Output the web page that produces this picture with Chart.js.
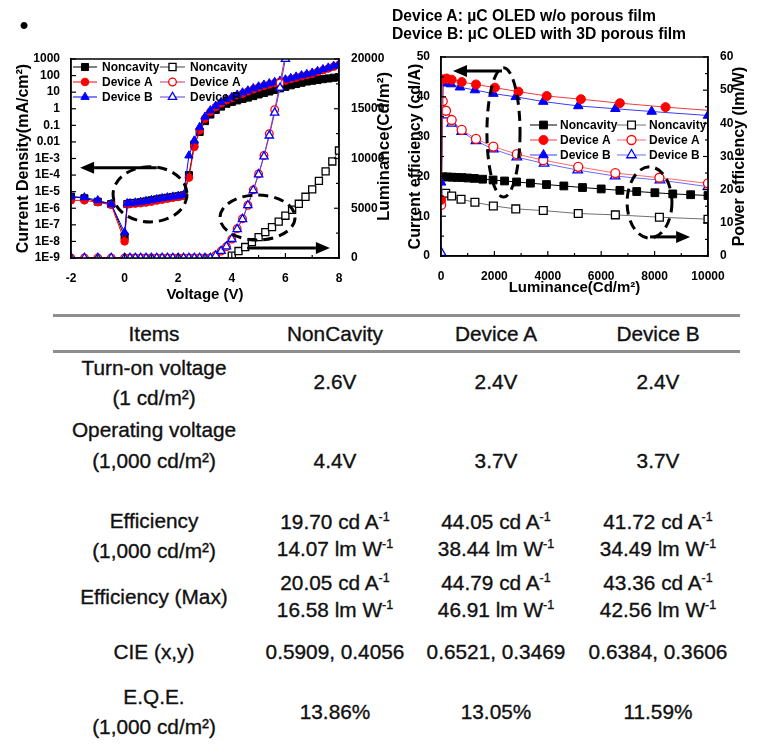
<!DOCTYPE html>
<html>
<head>
<meta charset="utf-8">
<script src="https://cdn.jsdelivr.net/npm/chart.js@4/dist/chart.umd.min.js"></script>
<style>
html,body{margin:0;padding:0;background:#fff;}
#page{position:relative;width:764px;height:756px;overflow:hidden;font-family:'Liberation Sans',Arial,sans-serif;color:#000;background:#fff;}
#page canvas{position:absolute;top:0;}
.t{position:absolute;white-space:nowrap;line-height:1;transform:translate(-50%,-50%);font-size:20.8px;color:#111;-webkit-text-stroke:0.35px #111;}
.t sup{font-size:0.6em;vertical-align:baseline;position:relative;top:-0.62em;}
.hline{position:absolute;left:53px;width:687px;height:3px;background:#8e8e8e;}
.hd{position:absolute;left:392px;font-weight:bold;font-size:15.7px;white-space:nowrap;line-height:1;transform:translateY(-50%);}
#bullet{position:absolute;left:24px;top:25px;font-size:26px;line-height:1;transform:translate(-50%,-50%);}
</style>
</head>
<body>
<div id="page">
  <canvas id="jv" width="395" height="310" style="left:0;width:395px;height:310px"></canvas>
  <canvas id="eff" width="369" height="310" style="left:395px;width:369px;height:310px"></canvas>
  <div id="bullet">•</div>
  <div class="hd" style="top:16px">Device A: µC OLED w/o porous film</div>
  <div class="hd" style="top:34px">Device B: µC OLED with 3D porous film</div>
  <div id="table"></div>
</div>
<script>
// ---------------- DATA: J-V-L chart ----------------
const voltJ = [-2,-1.5,-1,-0.5,0,0.1,0.2,0.4,0.6,0.8,1.0,1.2,1.4,1.6,1.8,2.0,2.2,2.4,2.6,2.8,3.0,3.2,3.4,3.6,3.8,4.0,4.2,4.4,4.6,4.8,5.0,5.2,5.4,5.6,5.8,6.0,6.2,6.4,6.6,6.8,7.0,7.2,7.4,7.6,7.8,8.0];
const jNoncavity = [5e-6,4e-6,2.5e-6,1.8e-6,2e-8,1.8e-6,2e-6,2.1e-6,2.3e-6,2.6e-6,3e-6,3.4e-6,3.9e-6,4.3e-6,4.8e-6,5.3e-6,6e-6,1e-4,7e-3,0.04,0.18,0.45,0.85,1.35,2.0,2.6,3.2,3.9,4.7,5.8,7.3,8.9,11,13.5,17,21,26,31,37,44,49,54,61,67,74,82];
const jDeviceA = [3e-6,3e-6,2.3e-6,1.6e-6,1e-8,1.7e-6,1.8e-6,1.9e-6,2e-6,2.2e-6,2.5e-6,2.9e-6,3.3e-6,3.8e-6,4.3e-6,4.8e-6,5.5e-6,7e-5,5e-3,0.05,0.25,0.65,1.25,2.1,3.2,4.3,6,8,11,14.5,19,24,29,35,42,50,61,75,90,108,130,165,210,265,345,440];
const jDeviceB = [5e-6,4.5e-6,3e-6,1.8e-6,3.5e-8,2e-6,2e-6,2.2e-6,2.4e-6,2.7e-6,3.1e-6,3.5e-6,4e-6,4.5e-6,5e-6,5.5e-6,6.3e-6,1.5e-3,0.012,0.08,0.33,0.8,1.5,2.5,3.8,5,7,9.5,12.5,17,22,28,34,41,49,58,70,86,103,123,148,185,240,300,385,490];
const voltLumAB = [-2,-1.5,-1,-0.5,0,0.2,0.4,0.6,0.8,1.0,1.2,1.4,1.6,1.8,2.0,2.2,2.4,2.6,2.8,3.0,3.2,3.4,3.6,3.8,4.0,4.2,4.4,4.6,4.8,5.0,5.2,5.4,5.6,5.8,6.0];
const lumDeviceA = [0,0,0,0,0,0,0,0,0,0,0,0,0,0,0,0,0,0,0,0,0,250,700,1150,1900,2950,3950,5300,6850,8450,10300,12500,14900,17600,20500];
const lumDeviceB = [0,0,0,0,0,0,0,0,0,0,0,0,0,0,0,0,0,0,0,0,0,250,700,1150,1900,2900,3900,5300,6800,8400,10200,12300,14600,17100,20000];
const voltLumN = [4.0,4.25,4.5,4.75,5.0,5.25,5.5,5.75,6.0,6.25,6.5,6.75,7.0,7.25,7.5,7.75,8.0];
const lumNoncavity = [230,700,1100,1600,2100,2600,3100,3650,4250,4850,5450,6150,6900,7750,8700,9700,10800];
const jTickValues = [1e-9,1e-8,1e-7,1e-6,1e-5,1e-4,1e-3,1e-2,1e-1,1,10,100,1000];
const jTickLabels = ['1E-9','1E-8','1E-7','1E-6','1E-5','1E-4','1E-3','0.01','0.1','1','10','100','1000'];

// ---------------- DATA: efficiency chart ----------------
const lumCeNoncavity = [87,250,420,600,790,1000,1250,1560,1950,2380,2830,3350,3950,4600,5300,6000,6700,7330,8010,8680,9350,10000];
const ceNoncavity = [19.9,19.85,19.8,19.75,19.7,19.6,19.5,19.3,19.1,18.85,18.6,18.3,17.95,17.6,17.2,16.85,16.5,16.2,15.9,15.6,15.4,15.2];
const lumPeNoncavity = [175,400,750,1270,1960,2800,3830,5140,6530,8180,10000];
const peNoncavity = [18.9,18.1,17.1,16.2,15.1,14.2,13.7,12.8,12.4,11.7,11.1];
const lumCeDeviceA = [8,64,213,400,775,1310,2020,2900,3960,5240,6700,8410,10400];
const ceDeviceA = [14.1,44.4,44.6,44.3,43.7,43.1,42.3,41.3,40.2,39.4,38.4,37.4,36.4];
const lumPeDeviceA = [5,64,187,400,775,1310,1960,2840,3830,5140,6530,8180,10000];
const peDeviceA = [15.4,46.7,43.8,41.0,38.0,35.3,33.0,30.7,28.9,26.9,25.0,23.6,21.9];
const lumCeDeviceB = [5,87,375,710,1270,1960,2800,3830,5140,6530,7890,10000];
const ceDeviceB = [18.5,43.4,43.2,42.4,41.7,40.8,40.0,38.8,37.7,37.0,36.3,35.3];
const lumPeDeviceB = [2,64,187,400,775,1310,1960,2840,3860,5120,6520,8200,10000];
const peDeviceB = [1.0,44.5,42.5,40.0,37.5,34.7,32.2,29.8,27.9,25.9,24.1,22.9,20.9];

// ---------------- annotations (data units) ----------------
const jvEllipses = [{axis:'y', x:[-0.43,2.33], y:[1.5e-7,3.2e-4]}, {axis:'y1', x:[3.56,6.36], y:[1810,6330]}];
const jvArrows = [{axis:'y', from:[1.2,2.8e-4], to:[-1.66,2.8e-4]}, {axis:'y1', from:[4.57,1000], to:[7.66,1000]}];
const effEllipses = [{axis:'y', x:[1720,2960], y:[14.8,47.3]}, {axis:'y', x:[6970,8650], y:[4.5,22.4]}];
const effArrows = [{axis:'y', from:[2285,46.5], to:[450,46.5]}, {axis:'y', from:[7830,4.8], to:[9330,4.8]}];

// ---------------- table ----------------
const tableColumns = ['Items','NonCavity','Device A','Device B'];
const tableItems = [['Turn-on voltage','(1 cd/m²)'],['Operating voltage','(1,000 cd/m²)'],['Efficiency','(1,000 cd/m²)'],['Efficiency (Max)'],['CIE (x,y)'],['E.Q.E.','(1,000 cd/m²)']];
const turnOnVoltage = ['2.6V','2.4V','2.4V'];
const operatingVoltage = ['4.4V','3.7V','3.7V'];
const ce1000 = ['19.70','44.05','41.72'];
const pe1000 = ['14.07','38.44','34.49'];
const ceMax = ['20.05','44.79','43.36'];
const peMax = ['16.58','46.91','42.56'];
const cieXY = ['0.5909, 0.4056','0.6521, 0.3469','0.6384, 0.3606'];
const eqe = ['13.86%','13.05%','11.59%'];

// ================= helpers =================
const FAM = "'Liberation Sans', Arial, sans-serif";
const tickFont = {family: FAM, size: 12, weight: 'bold'};
const plain = v => String(v);
function series(xs, ys){ return xs.map((x,i)=>({x:x, y:ys[i]})); }
function ds(label, xs, ys, axis, o){
  return {label, data: series(xs, ys), yAxisID: axis, pointStyle: o.style, pointRadius: o.r, pointHoverRadius: o.r,
    pointBorderWidth: o.filled ? 1 : 1.3, pointBackgroundColor: o.filled ? o.color : '#ffffff', pointBorderColor: o.color,
    borderColor: o.line, borderWidth: 1, showLine: true, tension: 0, fill: false};
}
function drawMarker(ctx, style, x, y, r, fill, stroke, lw){
  ctx.save(); ctx.setLineDash([]); ctx.beginPath();
  if (style === 'rect'){ const s = r*Math.SQRT1_2; ctx.rect(x-s, y-s, 2*s, 2*s); }
  else if (style === 'triangle'){
    let rad = 0;
    ctx.moveTo(x + Math.sin(rad)*r, y - Math.cos(rad)*r); rad += 2*Math.PI/3;
    ctx.lineTo(x + Math.sin(rad)*r, y - Math.cos(rad)*r); rad += 2*Math.PI/3;
    ctx.lineTo(x + Math.sin(rad)*r, y - Math.cos(rad)*r); ctx.closePath();
  } else { ctx.arc(x, y, r, 0, Math.PI*2); }
  ctx.fillStyle = fill; ctx.fill(); ctx.lineWidth = lw; ctx.strokeStyle = stroke; ctx.stroke();
  ctx.restore();
}
function frameTicks(){
  return {id:'frameTicks', afterDraw(chart){
    const ctx = chart.ctx, a = chart.chartArea;
    ctx.save(); ctx.strokeStyle = '#000'; ctx.setLineDash([]);
    ctx.lineWidth = 1.5; ctx.strokeRect(a.left, a.top, a.right-a.left, a.bottom-a.top);
    ctx.lineWidth = 1.2;
    Object.values(chart.scales).forEach(s => {
      const vals = s.ticks.map(t => t.value);
      const minor = s.type === 'logarithmic' ? [] : vals.slice(1).map((v,i) => (v + vals[i]) / 2);
      const draw = (v, len) => {
        const p = s.getPixelForValue(v);
        ctx.beginPath();
        if (s.axis === 'x'){ ctx.moveTo(p, a.bottom); ctx.lineTo(p, a.bottom - len); }
        else if (s.position === 'left'){ ctx.moveTo(a.left, p); ctx.lineTo(a.left + len, p); }
        else { ctx.moveTo(a.right, p); ctx.lineTo(a.right - len, p); }
        ctx.stroke();
      };
      vals.forEach(v => draw(v, 5));
      minor.forEach(v => draw(v, 3));
    });
    ctx.restore();
  }};
}
function innerLegend(cfg){
  return {id:'innerLegend', afterDatasetsDraw(chart){
    const ctx = chart.ctx, a = chart.chartArea;
    ctx.save();
    ctx.font = 'bold 12px ' + FAM; ctx.textBaseline = 'middle'; ctx.textAlign = 'left';
    cfg.rows.forEach((row, r) => {
      const y = a.top + cfg.top + r*cfg.rowGap;
      row.forEach((di, c) => {
        const d = chart.data.datasets[di];
        const x0 = a.left + cfg.cols[c], len = cfg.lineLen[c];
        ctx.setLineDash([]); ctx.strokeStyle = d.borderColor; ctx.lineWidth = 1;
        ctx.beginPath(); ctx.moveTo(x0, y); ctx.lineTo(x0 + len, y); ctx.stroke();
        drawMarker(ctx, d.pointStyle, x0 + len/2, y, d.pointRadius, d.pointBackgroundColor, d.pointBorderColor, d.pointBorderWidth);
        ctx.fillStyle = '#000'; ctx.fillText(d.label, x0 + len + cfg.gap, y + 0.5);
      });
    });
    ctx.restore();
  }};
}
function sideTitle(cfg){
  return {id:'sideTitle', afterDraw(chart){
    const ctx = chart.ctx, a = chart.chartArea, s = chart.scales[cfg.scale];
    ctx.save();
    ctx.translate(s.right - cfg.offset, (a.top + a.bottom)/2 + cfg.shift);
    ctx.rotate(-Math.PI/2);
    ctx.font = 'bold ' + cfg.size + 'px ' + FAM; ctx.fillStyle = '#000'; ctx.textAlign = 'center'; ctx.textBaseline = 'middle';
    ctx.fillText(cfg.text, 0, 0);
    ctx.restore();
  }};
}
function callouts(ellipses, arrows){
  return {id:'callouts', afterDatasetsDraw(chart){
    const ctx = chart.ctx, xs = chart.scales.x;
    ctx.save(); ctx.strokeStyle = '#000'; ctx.fillStyle = '#000'; ctx.lineWidth = 3;
    ellipses.forEach(e => {
      const ys = chart.scales[e.axis];
      const x1 = xs.getPixelForValue(e.x[0]), x2 = xs.getPixelForValue(e.x[1]);
      const y1 = ys.getPixelForValue(e.y[0]), y2 = ys.getPixelForValue(e.y[1]);
      ctx.setLineDash([10,6]); ctx.beginPath();
      ctx.ellipse((x1+x2)/2, (y1+y2)/2, Math.abs(x2-x1)/2, Math.abs(y2-y1)/2, 0, 0, Math.PI*2);
      ctx.stroke();
    });
    ctx.setLineDash([]);
    arrows.forEach(ar => {
      const ys = chart.scales[ar.axis];
      const fx = xs.getPixelForValue(ar.from[0]), fy = ys.getPixelForValue(ar.from[1]);
      const tx = xs.getPixelForValue(ar.to[0]), ty = ys.getPixelForValue(ar.to[1]);
      const ang = Math.atan2(ty - fy, tx - fx), hl = 14, hw = 6;
      const bx = tx - hl*Math.cos(ang), by = ty - hl*Math.sin(ang);
      ctx.beginPath(); ctx.moveTo(fx, fy); ctx.lineTo(bx, by); ctx.stroke();
      ctx.beginPath(); ctx.moveTo(tx, ty);
      ctx.lineTo(bx + hw*Math.sin(ang), by - hw*Math.cos(ang));
      ctx.lineTo(bx - hw*Math.sin(ang), by + hw*Math.cos(ang));
      ctx.closePath(); ctx.fill();
    });
    ctx.restore();
  }};
}
function axisBase(extra){
  return Object.assign({grid:{display:false}, border:{display:true, color:'#000', width:1.5}}, extra);
}

// ================= Chart 1: J-V-L =================
const RED = '#ff0000', BLUE = '#0000ff', BLACK = '#000000';
const jvDatasets = [
  ds('Device B', voltLumAB, lumDeviceB, 'y1', {style:'triangle', r:4.8, filled:false, color:BLUE, line:'#6a3cc8'}),
  ds('Device A', voltLumAB, lumDeviceA, 'y1', {style:'circle', r:3.8, filled:false, color:RED, line:'#c0307a'}),
  ds('Noncavity', voltLumN, lumNoncavity, 'y1', {style:'rect', r:5, filled:false, color:BLACK, line:'#444444'}),
  ds('Device B', voltJ, jDeviceB, 'y', {style:'triangle', r:4.8, filled:true, color:BLUE, line:BLUE}),
  ds('Device A', voltJ, jDeviceA, 'y', {style:'circle', r:3.8, filled:true, color:RED, line:RED}),
  ds('Noncavity', voltJ, jNoncavity, 'y', {style:'rect', r:5, filled:true, color:BLACK, line:BLACK})
];
new Chart(document.getElementById('jv').getContext('2d'), {
  type: 'line',
  data: {datasets: jvDatasets},
  options: {
    responsive:false, animation:false, devicePixelRatio:1,
    layout:{padding:{top:59, left:0, right:0, bottom:0}, autoPadding:false},
    plugins:{legend:{display:false}, tooltip:{enabled:false}},
    scales:{
      x: axisBase({type:'linear', min:-2, max:8,
        afterFit: s => { s.height = 52; },
        ticks:{stepSize:2, autoSkip:false, padding:5, color:'#000', font:tickFont, maxRotation:0, callback:plain},
        title:{display:true, text:'Voltage (V)', color:'#000', font:{family:FAM, size:15, weight:'bold', lineHeight:1}, padding:{top:0, bottom:7.5}}}),
      y: axisBase({type:'logarithmic', position:'left', min:1e-9, max:1000,
        afterBuildTicks: s => { s.ticks = jTickValues.map(v => ({value:v})); },
        afterFit: s => { s.width = 71; },
        ticks:{autoSkip:false, padding:3, color:'#000', font:tickFont, callback:(v,i) => jTickLabels[i]},
        title:{display:true, text:'Current Density(mA/cm²)', color:'#000', font:{family:FAM, size:16, weight:'bold', lineHeight:1}, padding:{top:16, bottom:0}}}),
      y1: axisBase({type:'linear', position:'right', min:0, max:20000,
        afterFit: s => { s.width = 56; },
        ticks:{stepSize:5000, autoSkip:false, padding:4, color:'#000', font:tickFont, callback:plain}})
    }
  },
  plugins:[frameTicks(), callouts(jvEllipses, jvArrows),
    innerLegend({rows:[[5,2],[4,1],[3,0]], cols:[2,89], lineLen:[24,25], gap:5, top:8, rowGap:15}),
    sideTitle({scale:'y1', text:'Luminance(Cd/m²)', offset:11, shift:-12, size:17})]
});

// ================= Chart 2: efficiency =================
const effDatasets = [
  ds('Device A', lumCeDeviceA, ceDeviceA, 'y', {style:'circle', r:4.5, filled:true, color:RED, line:'#f03c3c'}),
  ds('Device B', lumCeDeviceB, ceDeviceB, 'y', {style:'triangle', r:5.5, filled:true, color:BLUE, line:'#3c3cf0'}),
  ds('Noncavity', lumCeNoncavity, ceNoncavity, 'y', {style:'rect', r:5.5, filled:true, color:BLACK, line:BLACK}),
  ds('Device A', lumPeDeviceA, peDeviceA, 'y1', {style:'circle', r:4.5, filled:false, color:RED, line:'#ff6a6a'}),
  ds('Device B', lumPeDeviceB, peDeviceB, 'y1', {style:'triangle', r:5.5, filled:false, color:BLUE, line:'#6a6aff'}),
  ds('Noncavity', lumPeNoncavity, peNoncavity, 'y1', {style:'rect', r:5.5, filled:false, color:BLACK, line:'#707070'})
];
new Chart(document.getElementById('eff').getContext('2d'), {
  type: 'line',
  data: {datasets: effDatasets},
  options: {
    responsive:false, animation:false, devicePixelRatio:1,
    layout:{padding:{top:57, left:0, right:0, bottom:0}, autoPadding:false},
    plugins:{legend:{display:false}, tooltip:{enabled:false}},
    scales:{
      x: axisBase({type:'linear', min:0, max:10000,
        afterFit: s => { s.height = 54; },
        ticks:{stepSize:2000, autoSkip:false, padding:5, color:'#000', font:tickFont, maxRotation:0, callback:plain},
        title:{display:true, text:'Luminance(Cd/m²)', color:'#000', font:{family:FAM, size:15, weight:'bold', lineHeight:1}, padding:{top:0, bottom:14.5}}}),
      y: axisBase({type:'linear', position:'left', min:0, max:50,
        afterFit: s => { s.width = 46; },
        ticks:{stepSize:10, autoSkip:false, padding:3, color:'#000', font:tickFont, callback:plain},
        title:{display:true, text:'Current efficiency (cd/A)', color:'#000', font:{family:FAM, size:16, weight:'bold', lineHeight:1}, padding:{top:13, bottom:0}}}),
      y1: axisBase({type:'linear', position:'right', min:0, max:60,
        afterFit: s => { s.width = 56; },
        ticks:{stepSize:10, autoSkip:false, padding:4, color:'#000', font:tickFont, callback:plain}})
    }
  },
  plugins:[frameTicks(), callouts(effEllipses, effArrows),
    innerLegend({rows:[[2,5],[0,3],[1,4]], cols:[89,176], lineLen:[27,29], gap:3, top:68, rowGap:15}),
    sideTitle({scale:'y1', text:'Power efficiency (lm/W)', offset:24, shift:0, size:16})]
});

// ================= Table =================
(function(){
  const page = document.getElementById('page');
  const colX = [154, 335, 496, 658];
  const put = (html, x, y) => { const d = document.createElement('div'); d.className = 't'; d.innerHTML = html; d.style.left = x + 'px'; d.style.top = y + 'px'; page.appendChild(d); };
  const line = (y) => { const d = document.createElement('div'); d.className = 'hline'; d.style.top = y + 'px'; page.appendChild(d); };
  line(314); line(350);
  tableColumns.forEach((c, i) => put(c, colX[i], 334));
  const cdA = v => v + ' cd A<sup>-1</sup>', lmW = v => v + ' lm W<sup>-1</sup>';
  const rowValues = [
    turnOnVoltage.map(v => [v]),
    operatingVoltage.map(v => [v]),
    ce1000.map((v, i) => [cdA(v), lmW(pe1000[i])]),
    ceMax.map((v, i) => [cdA(v), lmW(peMax[i])]),
    cieXY.map(v => [v]),
    eqe.map(v => [v])
  ];
  const rowLayout = [
    {label:[368,398], value:[382]},
    {label:[430,461], value:[461]},
    {label:[521,551], value:[522,549]},
    {label:[597], value:[583,610]},
    {label:[652], value:[652]},
    {label:[697,727], value:[712]}
  ];
  tableItems.forEach((lines, r) => {
    lines.forEach((txt, k) => put(txt, colX[0], rowLayout[r].label[k]));
    rowValues[r].forEach((vals, c) => vals.forEach((v, k) => put(v, colX[c+1], rowLayout[r].value[k])));
  });
})();
</script>
</body>
</html>
